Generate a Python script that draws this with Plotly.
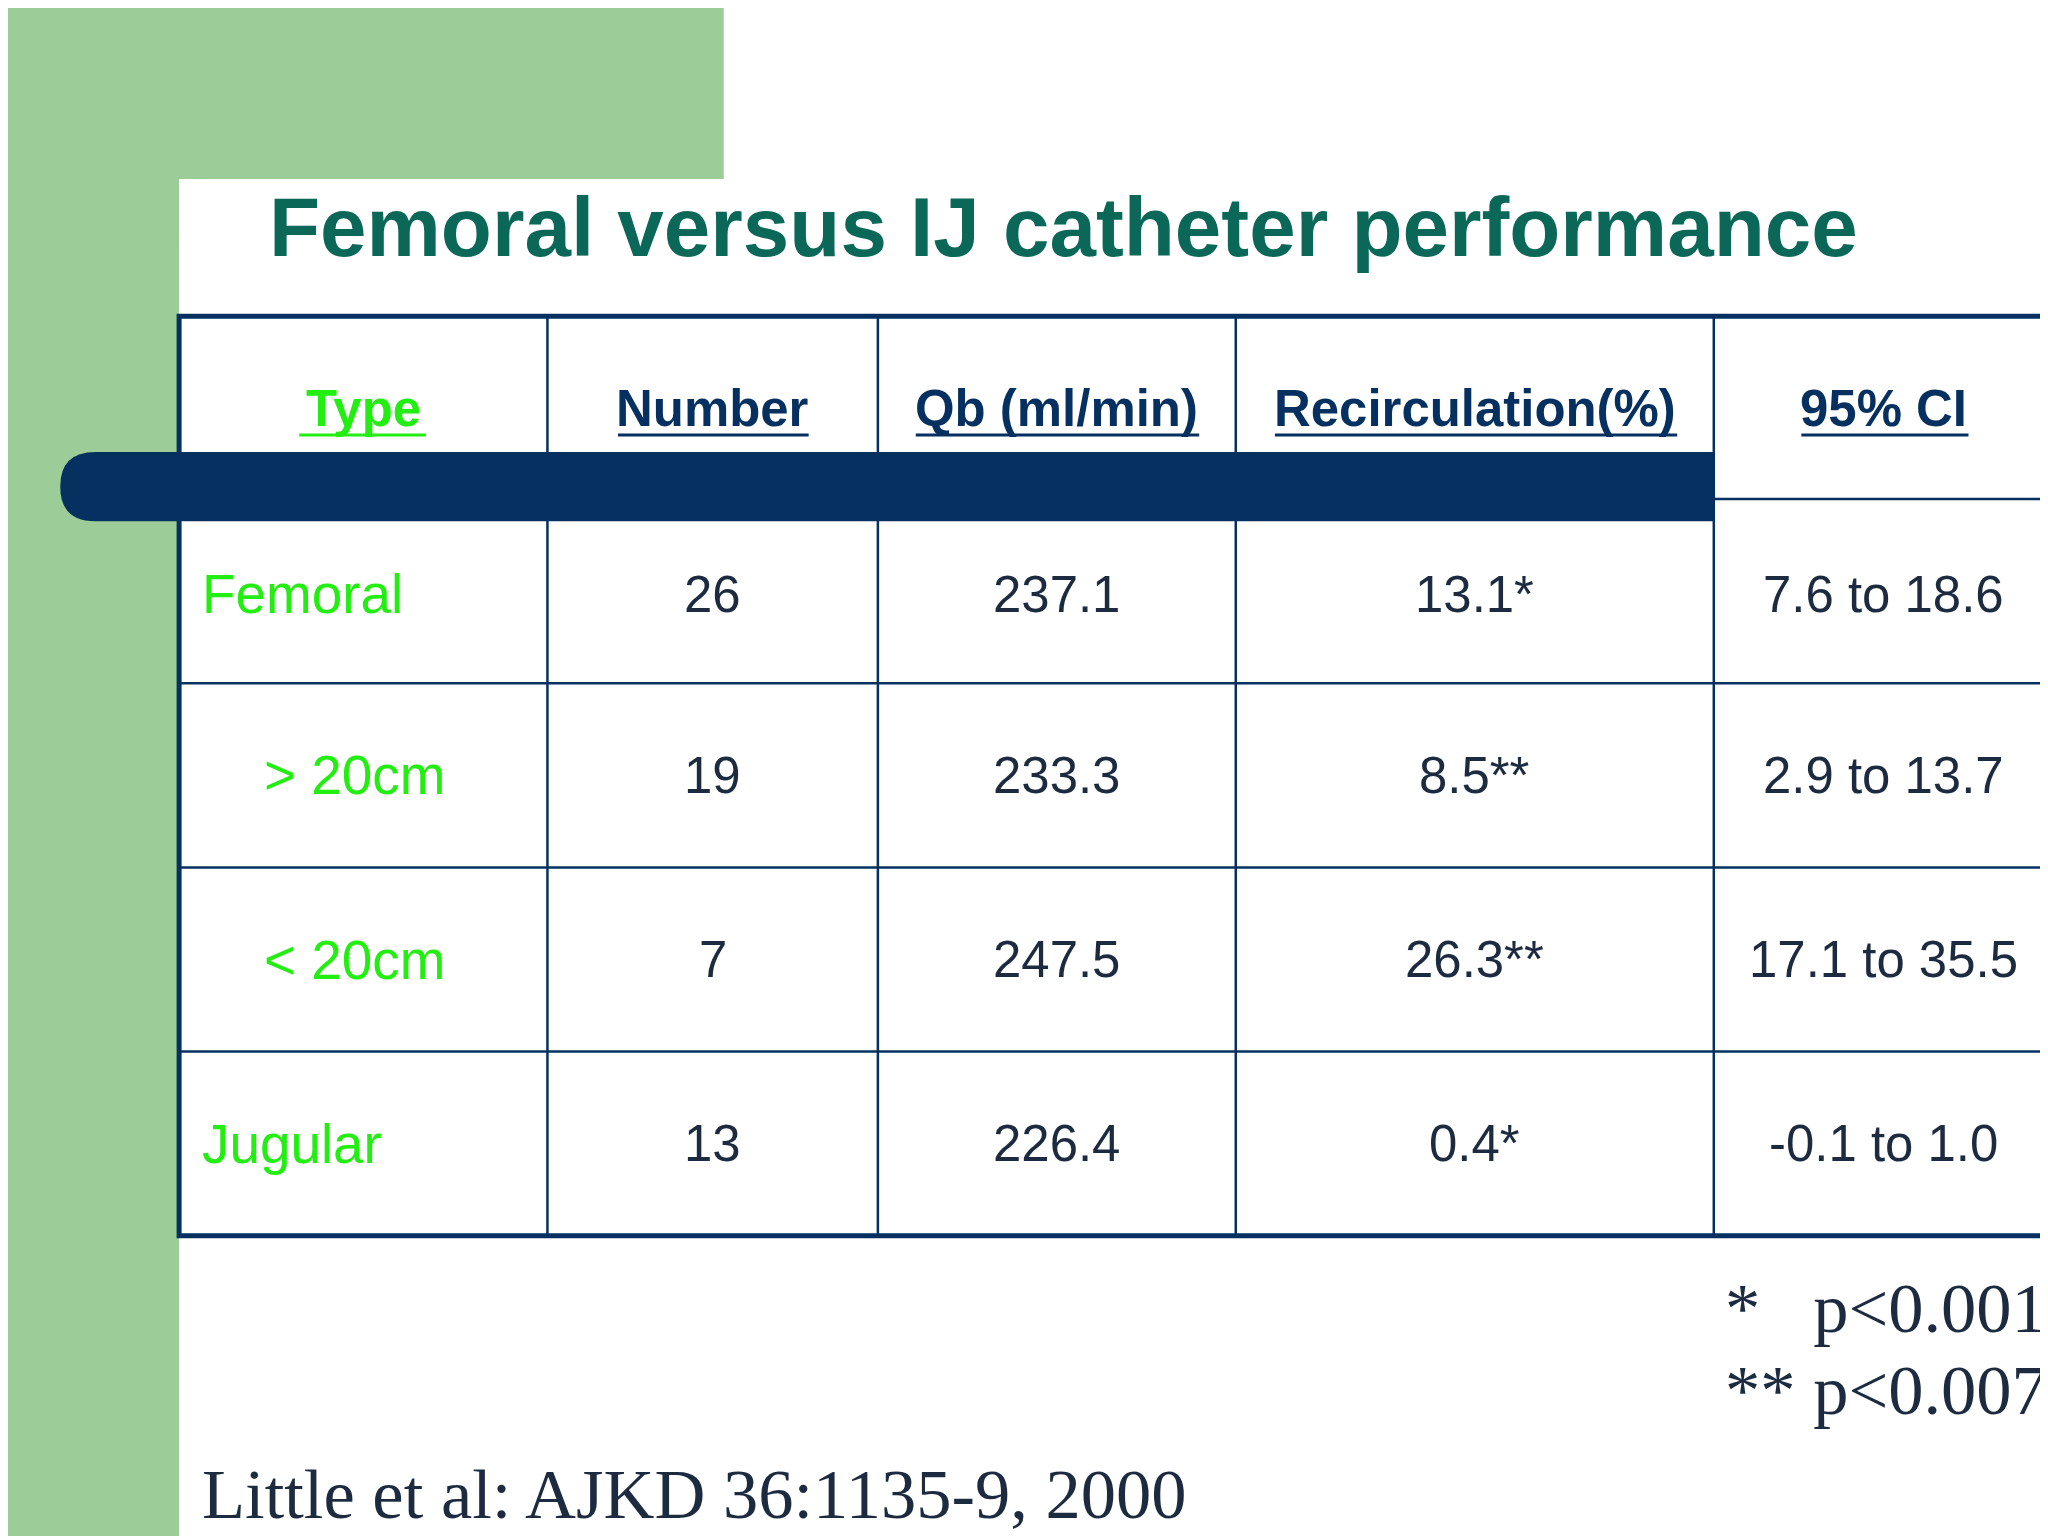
import plotly.graph_objects as go

title = "Femoral versus IJ catheter performance"
headers = ["Type", "Number", "Qb (ml/min)", "Recirculation(%)", "95% CI"]
types = ["Femoral", "> 20cm", "< 20cm", "Jugular"]
numbers = ["26", "19", "7", "13"]
qb = ["237.1", "233.3", "247.5", "226.4"]
recirc = ["13.1*", "8.5**", "26.3**", "0.4*"]
ci = ["7.6 to 18.6", "2.9 to 13.7", "17.1 to 35.5", "-0.1 to 1.0"]
footnotes = ["*   p<0.001", "** p<0.007"]
citation = "Little et al: AJKD 36:1135-9, 2000"

S = 2048 / 1568
NAVY = "#06305f"
GREEN = "#22ee11"
TXT = "#1c2b40"

fig = go.Figure()
shapes = []
ann = []

shapes.append(dict(type="rect", x0=0, x1=548, y0=0, y1=131, fillcolor="#9ccd98", line_width=0, layer="below"))
shapes.append(dict(type="rect", x0=0, x1=131, y0=0, y1=1176, fillcolor="#9ccd98", line_width=0, layer="below"))
shapes.append(dict(type="path", path="M 131,185 Q 131,131 185,131 L 1568,131 L 1568,1176 L 131,1176 Z",
                   fillcolor="white", line_width=0, layer="below"))

colx = [131, 413, 666, 940, 1306, 1566]
rowy = [236, 393, 517, 658, 799, 940]
centers = [(colx[i] + colx[i + 1]) / 2 for i in range(5)]

for x in colx[1:5]:
    shapes.append(dict(type="line", x0=x, x1=x, y0=236, y1=940, line=dict(color=NAVY, width=2.5)))
for y in rowy[2:5]:
    shapes.append(dict(type="line", x0=131, x1=1566, y0=y, y1=y, line=dict(color=NAVY, width=2.5)))
shapes.append(dict(type="line", x0=1306, x1=1566, y0=376, y1=376, line=dict(color=NAVY, width=2.5)))
shapes.append(dict(type="rect", x0=131, x1=1566, y0=236, y1=940, line=dict(color=NAVY, width=5)))
shapes.append(dict(type="path", path="M 67,340 L 1306,340 L 1306,393 L 67,393 Q 40,393 40,366.5 Q 40,340 67,340 Z",
                   fillcolor=NAVY, line_width=0))

ann.append(dict(x=198, y=168, text="<b>" + title + "</b>", xanchor="left", yanchor="middle",
                font=dict(family="Arial, Liberation Sans", size=64 * S, color="#0b6858")))

underline = [(223, 320), (467, 613), (695, 912), (970, 1278), (1373, 1501)]
for i, h in enumerate(headers):
    c = GREEN if i == 0 else NAVY
    ann.append(dict(x=centers[i], y=307, text="<b>" + h + "</b>", xanchor="center", yanchor="middle",
                    font=dict(family="Arial, Liberation Sans", size=39 * S, color=c)))
    u0, u1 = underline[i]
    shapes.append(dict(type="line", x0=u0, x1=u1, y0=327, y1=327, line=dict(color=c, width=3)))

rowc = [(rowy[i + 1] + rowy[i + 2]) / 2 for i in range(4)]
rowc[0] = 449
for r in range(4):
    if r in (0, 3):
        ann.append(dict(x=147, y=rowc[r], text=types[r], xanchor="left", yanchor="middle",
                        font=dict(family="Arial, Liberation Sans", size=42 * S, color=GREEN)))
    else:
        ann.append(dict(x=265, y=rowc[r], text=types[r], xanchor="center", yanchor="middle",
                        font=dict(family="Arial, Liberation Sans", size=42 * S, color=GREEN)))
    for c, col in enumerate([numbers, qb, recirc, ci]):
        ann.append(dict(x=centers[c + 1], y=rowc[r], text=col[r], xanchor="center", yanchor="middle",
                        font=dict(family="Arial, Liberation Sans", size=39 * S, color=TXT)))

for i, f in enumerate(footnotes):
    ann.append(dict(x=1313, y=995 + 63 * i, text=f, xanchor="left", yanchor="middle",
                    font=dict(family="Liberation Serif, Times New Roman", size=54 * S, color=TXT)))
ann.append(dict(x=147, y=1138, text=citation, xanchor="left", yanchor="middle",
                font=dict(family="Liberation Serif, Times New Roman", size=54 * S, color=TXT)))

for a in ann:
    a.update(showarrow=False, xref="x", yref="y")

fig.update_layout(width=2048, height=1536, margin=dict(l=0, r=0, t=0, b=0),
                  paper_bgcolor="white", plot_bgcolor="white", shapes=shapes, annotations=ann,
                  xaxis=dict(range=[0, 1568], visible=False, fixedrange=True),
                  yaxis=dict(range=[1176, 0], visible=False, fixedrange=True),
                  showlegend=False)
fig.write_html("out.html")
